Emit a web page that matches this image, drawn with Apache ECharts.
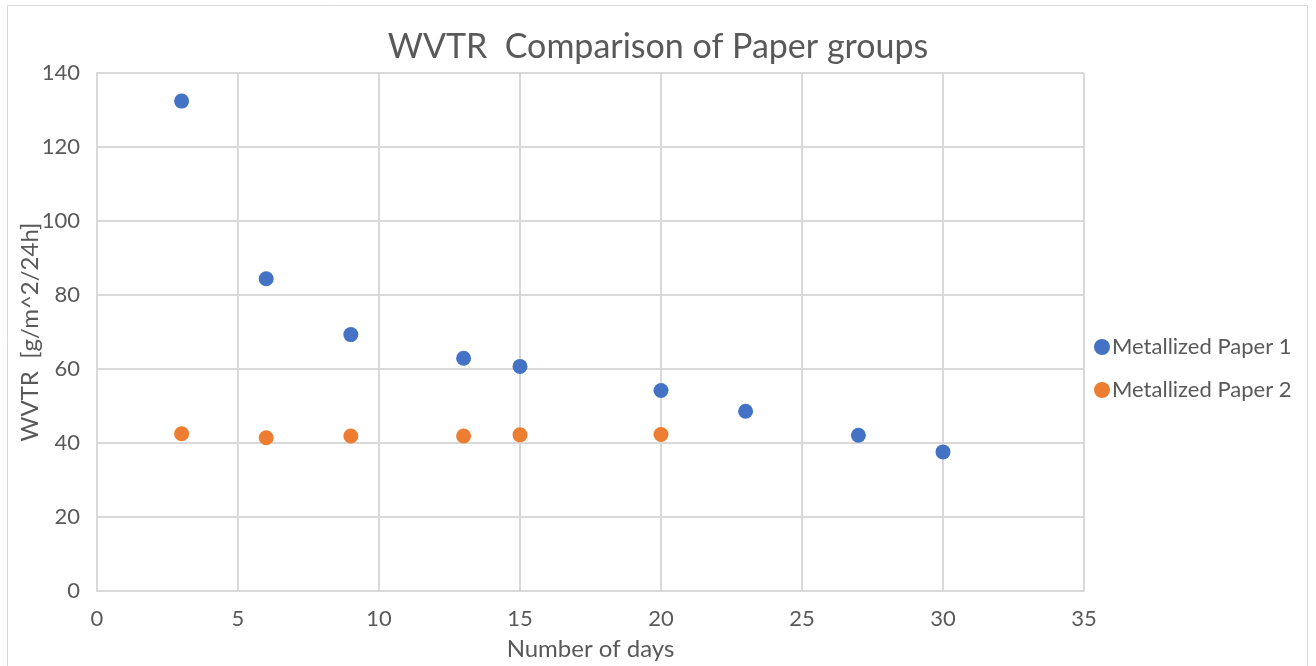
<!DOCTYPE html>
<html>
<head>
<meta charset="utf-8">
<script src="https://cdn.jsdelivr.net/npm/echarts@6/dist/echarts.min.js"></script>
<style>
  html, body { margin: 0; padding: 0; background: #fff; }
  #chart { width: 1316px; height: 666px; }
</style>
</head>
<body>
<div id="chart"></div>
<script>
// days on x, WVTR on y
const paper1Days = [3, 6, 9, 13, 15, 20, 23, 27, 30]
const paper1Wvtr = [132.4, 84.4, 69.3, 62.9, 60.7, 54.2, 48.6, 42.1, 37.6]
const paper2Days = [3, 6, 9, 13, 15, 20]
const paper2Wvtr = [42.5, 41.4, 41.9, 41.9, 42.2, 42.3]
const seriesNames = ['Metallized Paper 1', 'Metallized Paper 2']

const font = 'Lato, "Open Sans", sans-serif'
const textColor = '#595959'

const toPairs = (xs, ys) => xs.map((x, i) => [x, ys[i]])

const chart = echarts.init(document.getElementById('chart'))

chart.setOption({
  backgroundColor: '#fff',
  animation: false,
  title: {
    text: 'WVTR  Comparison of Paper groups',
    left: 'center',
    top: 25,
    textStyle: { color: textColor, fontSize: 34, fontWeight: 'normal', fontFamily: font }
  },
  legend: {
    orient: 'vertical',
    left: 1089,
    top: 331,
    itemGap: 21,
    itemWidth: 16,
    itemHeight: 16,
    icon: 'circle',
    data: seriesNames,
    textStyle: { color: textColor, fontSize: 22, fontFamily: font, padding: [0, 0, 0, -3] }
  },
  graphic: [{
    type: 'rect',
    shape: { x: 7.5, y: 5.5, width: 1300, height: 700 },
    style: { fill: 'none', stroke: '#d9d9d9', lineWidth: 1 },
    silent: true
  }],
  grid: { left: 97, right: 232, top: 73, bottom: 73 },
  xAxis: {
    type: 'value',
    min: 0,
    max: 35,
    interval: 5,
    name: 'Number of days',
    nameLocation: 'middle',
    nameGap: 46,
    nameTextStyle: { color: textColor, fontSize: 24, fontFamily: font },
    axisLine: { show: true, lineStyle: { color: '#d9d9d9', width: 2 } },
    axisTick: { show: false },
    axisLabel: { color: textColor, fontSize: 22, fontFamily: font, margin: 17 },
    splitLine: { show: true, lineStyle: { color: '#d9d9d9', width: 2 } }
  },
  yAxis: {
    type: 'value',
    min: 0,
    max: 140,
    interval: 20,
    name: 'WVTR  [g/m^2/24h]',
    nameLocation: 'middle',
    nameGap: 55,
    nameMoveOverlap: false,
    nameTextStyle: { color: textColor, fontSize: 24, fontFamily: font },
    axisLine: { show: true, lineStyle: { color: '#d9d9d9', width: 2 } },
    axisTick: { show: false },
    axisLabel: { color: textColor, fontSize: 22, fontFamily: font, margin: 17 },
    splitLine: { show: true, lineStyle: { color: '#d9d9d9', width: 2 } }
  },
  series: [
    {
      name: seriesNames[0],
      type: 'scatter',
      symbolSize: 15,
      data: toPairs(paper1Days, paper1Wvtr),
      itemStyle: { color: '#4472c4', opacity: 1 }
    },
    {
      name: seriesNames[1],
      type: 'scatter',
      symbolSize: 15,
      data: toPairs(paper2Days, paper2Wvtr),
      itemStyle: { color: '#ed7d31', opacity: 1 }
    }
  ]
})
</script>
</body>
</html>
